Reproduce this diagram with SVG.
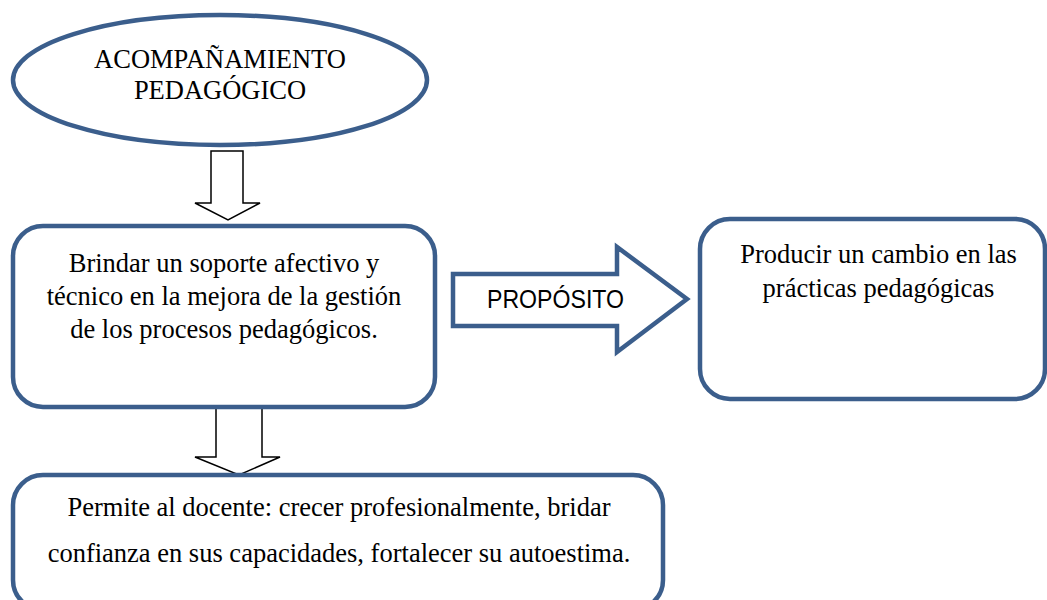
<svg xmlns="http://www.w3.org/2000/svg" width="1047" height="600" viewBox="0 0 1047 600">
<style>
.node{fill:#ffffff;stroke:#3b5e8c;stroke-width:4.5}
.down{fill:#ffffff;stroke:#000000;stroke-width:1.5;stroke-linejoin:miter}
.t{font-family:"Liberation Serif","Times New Roman",serif;font-size:26.5px;fill:#000000;text-anchor:middle}
.s{font-family:"Liberation Sans",Arial,sans-serif;font-size:26px;fill:#000000;text-anchor:middle}
</style>
<rect width="1047" height="600" fill="#ffffff"/>
<g id="connectors">
<polygon class="down" points="211,151 243,151 243,203 260,203 228,220 195,203 211,203"/>
<polygon class="down" points="216,406 262,406 262,457 280,457 239,475 195,457 216,457"/>
</g>
<g id="ellipse-acompanamiento">
<ellipse class="node" cx="220" cy="80" rx="207" ry="65" stroke-width="5"/>
<text class="t" x="220" y="68">ACOMPAÑAMIENTO</text>
<text class="t" x="220" y="99">PEDAGÓGICO</text>
</g>
<g id="box-brindar">
<rect class="node" x="13" y="226" width="422" height="181" rx="30"/>
<text class="t" x="224" y="272">Brindar un soporte afectivo y</text>
<text class="t" x="224" y="305">técnico en la mejora de la gestión</text>
<text class="t" x="224" y="338">de los procesos pedagógicos.</text>
</g>
<g id="arrow-proposito">
<polygon class="node" stroke-width="5" points="453,274 617,274 617,247 687,299 617,352 617,326 453,326"/>
<text class="s" x="555.5" y="308" textLength="137" lengthAdjust="spacingAndGlyphs">PROPÓSITO</text>
</g>
<g id="box-producir">
<rect class="node" x="700" y="219" width="345" height="180" rx="30"/>
<text class="t" x="878.5" y="263">Producir un cambio en las</text>
<text class="t" x="878.5" y="297">prácticas pedagógicas</text>
</g>
<g id="box-permite">
<rect class="node" x="13" y="475" width="650" height="135" rx="30"/>
<text class="t" x="339" y="516">Permite al docente: crecer profesionalmente, bridar</text>
<text class="t" x="339" y="562">confianza en sus capacidades, fortalecer su autoestima.</text>
</g>
</svg>
